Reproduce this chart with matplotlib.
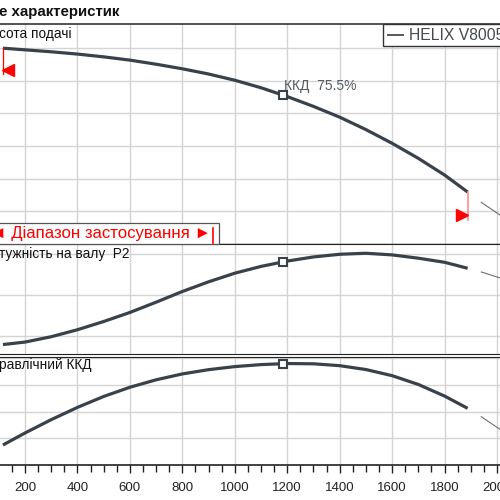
import numpy as np
import matplotlib
matplotlib.use('Agg')
import matplotlib.pyplot as plt
from matplotlib.patches import Rectangle
from matplotlib.lines import Line2D

plt.rcParams['font.family'] = ['Liberation Sans', 'DejaVu Sans']

# flow rate readings and the three curves
q = [116, 200, 300, 400, 500, 600, 700, 800, 900, 1000, 1100, 1200,
     1300, 1400, 1500, 1600, 1700, 1800, 1888]
head = [59.9, 59.4, 58.8, 58.1, 57.25, 56.25, 55.0, 53.6, 52.0, 50.1, 47.8, 45.1,
        42.1, 38.8, 35.0, 30.8, 26.2, 21.1, 15.9]
power = [9.60, 9.72, 9.98, 10.32, 10.72, 11.16, 11.66, 12.18, 12.65, 13.07, 13.40, 13.66,
         13.86, 13.99, 14.04, 13.96, 13.80, 13.60, 13.31]
eta = [15.0, 24.0, 34.0, 43.2, 51.4, 58.3, 63.9, 68.3, 71.5, 73.8, 75.3, 76.1,
       75.9, 74.5, 71.6, 67.0, 60.4, 51.7, 42.5]

# thin continuation beyond the range
q_ext = [1940, 2011]
head_ext = [12.75, 8.87]
power_ext = [13.13, 12.84]
eta_ext = [36.2, 26.8]

q_bep = 1183
bep_label = 'ККД  75.5%'
q_min, q_max = 116, 1888
xticks = [200, 400, 600, 800, 1000, 1200, 1400, 1600, 1800, 2000]

curve_c = '#39424b'
grid_c = '#d4d4d4'
W = H = 500.0

def fx(px):
    return px / W

def fy(py):
    return 1 - py / H

fig = plt.figure(figsize=(5, 5), dpi=100)

def make_ax(top, bottom, ylim, yt, lw=1.1):
    ax = fig.add_axes([0, fy(bottom), 1, (bottom - top) / H])
    ax.set_xlim(104.7, 2011.4)
    ax.set_ylim(*ylim)
    ax.set_xticks(xticks)
    ax.set_yticks(yt)
    ax.grid(True, color=grid_c, lw=1)
    ax.tick_params(left=False, labelleft=False, bottom=False, labelbottom=False)
    for s in ['left', 'right']:
        ax.spines[s].set_visible(False)
    for s in ['top', 'bottom']:
        ax.spines[s].set_color('#222222')
        ax.spines[s].set_linewidth(lw)
    return ax

ax1 = make_ax(24, 244, (0, 67.3), [10, 20, 30, 40, 50, 60])
ax2 = make_ax(244, 354.2, (9.13, 14.49), [10, 12, 14], lw=0.8)
ax3 = make_ax(357, 465, (0, 81.0), [20, 40, 60, 80], lw=0.8)
ax1.spines['bottom'].set_linewidth(1.0)

for ax, y, ye in [(ax1, head, head_ext), (ax2, power, power_ext), (ax3, eta, eta_ext)]:
    ax.plot(q, y, color=curve_c, lw=2.3, solid_capstyle='butt', solid_joinstyle='round', zorder=3)
    ax.plot(q_ext, ye, color='#6a6f75', lw=0.8, zorder=3)
    yb = np.interp(q_bep, q, y)
    ax.plot([q_bep], [yb], marker='s', ms=6, mfc='white', mec=curve_c, mew=1.5, zorder=4)

ax1.annotate(bep_label, (q_bep, np.interp(q_bep, q, head)), xytext=(1, 4),
             textcoords='offset points', ha='left', va='baseline',
             fontsize=10, color='#555b61')

# operating range markers on the head curve
ax1.plot([q_min, q_min], [head[0], 52.0], color='red', lw=0.9, zorder=4)
ax1.plot([q_min + 21], [53.2], marker='<', ms=8, color='red', mec='red', zorder=4)
ax1.plot([q_max, q_max], [head[-1], 7.3], color='#ff8c8c', lw=1.2, zorder=4)
ax1.plot([q_max - 21], [8.9], marker='>', ms=8, color='red', mec='red', zorder=4)

# x axis
ax3.spines['bottom'].set_linewidth(1.2)
ax3.set_xticks(np.arange(150, 2011, 50), minor=True)
ax3.tick_params(axis='x', which='major', bottom=True, labelbottom=True, direction='out',
                length=6, width=1, labelsize=9.5, colors='#222222', pad=6)
ax3.tick_params(axis='x', which='minor', bottom=True, direction='out', length=5, width=1,
                colors='#222222')
ax3.grid(False, which='minor')

# texts
fig.text(fx(-1), fy(16), 'е характеристик', fontsize=10.8, fontweight='bold',
         va='baseline', ha='left', color='#111111')
fig.text(fx(-1), fy(38), 'сота подачі', fontsize=9.8, va='baseline', ha='left', color='#111111')
fig.text(fx(-1), fy(258), 'тужність на валу  P2', fontsize=9.8, va='baseline', ha='left',
         color='#111111')
fig.text(fx(-1), fy(369), 'равлічний ККД', fontsize=9.8, va='baseline', ha='left',
         color='#111111')

# legend box cut at the right edge
fig.patches.append(Rectangle((fx(383), fy(45.5)), fx(130), 21.5 / H, transform=fig.transFigure,
                             facecolor='white', edgecolor='#333333', lw=1, zorder=5))
fig.lines.append(Line2D([fx(388), fx(403)], [fy(35), fy(35)], transform=fig.transFigure,
                        color='#555b61', lw=1.4, zorder=6))
fig.text(fx(409), fy(35), 'HELIX V8005', fontsize=11.3, va='center', ha='left',
         color='#444a50', zorder=6)

# range box
fig.patches.append(Rectangle((fx(-3), fy(243.5)), fx(222), 20.8 / H, transform=fig.transFigure,
                             facecolor='white', edgecolor='#555555', lw=0.9, zorder=5))
fig.lines.append(Line2D([fx(213.3), fx(213.3)], [fy(228), fy(243)], transform=fig.transFigure,
                        color='red', lw=1.2, zorder=6))
fig.text(fx(-10), fy(233.5), '◄ Діапазон застосування ►', fontsize=12.1, va='center', ha='left',
         color='red', zorder=6)

fig.savefig('out.png', dpi=100)
